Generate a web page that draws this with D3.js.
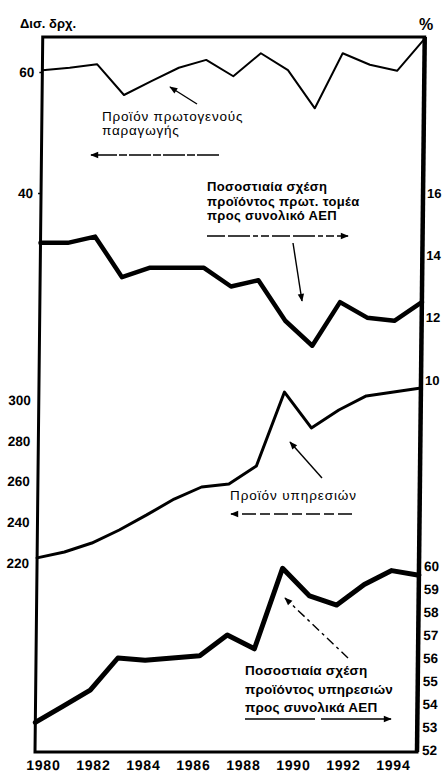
<!DOCTYPE html>
<html>
<head>
<meta charset="utf-8">
<script src="https://cdn.jsdelivr.net/npm/d3@7"></script>
<style>
  body { margin: 0; background: #fff; }
  svg { display: block; }
</style>
</head>
<body>
<div id="chart"></div>
<script>
// values
const years = [1980, 1981, 1982, 1983, 1984, 1985, 1986, 1987, 1988, 1989, 1990, 1991, 1992, 1993, 1994];
const yearTicks = [1980, 1982, 1984, 1986, 1988, 1990, 1992, 1994];

// Προϊόν πρωτογενούς παραγωγής (δισ. δρχ.)
const primaryProduct = [60.3, 60.7, 61.3, 56.2, 58.5, 60.7, 62.0, 59.3, 63.1, 60.3, 54.0, 63.1, 61.2, 60.2, 65.5];
// Ποσοστιαία σχέση προϊόντος πρωτ. τομέα προς ΑΕΠ (%)
const primaryShare = [14.4, 14.4, 14.6, 13.3, 13.6, 13.6, 13.6, 13.0, 13.2, 11.9, 11.1, 12.5, 12.0, 11.9, 12.5];
// Προϊόν υπηρεσιών (δισ. δρχ.)
const servicesProduct = [222.5, 225.4, 229.8, 236.2, 243.6, 251.4, 257.3, 258.8, 267.6, 303.9, 286.3, 295.1, 302.0, 303.9, 305.9];
// Ποσοστιαία σχέση προϊόντος υπηρεσιών προς ΑΕΠ (%)
const servicesShare = [53.2, 53.9, 54.6, 56.0, 55.9, 56.0, 56.1, 57.0, 56.4, 59.9, 58.7, 58.3, 59.2, 59.8, 59.6];

const primaryTicks = [40, 60];
const primaryShareTicks = [10, 12, 14, 16];
const servicesTicks = [220, 240, 260, 280, 300];
const servicesShareTicks = [52, 53, 54, 55, 56, 57, 58, 59, 60];

const width = 443, height = 772;
const plotLeft = 35, plotRight = 417, plotTop = 37, plotBottom = 752;
const skew = 0.62; // the scan leans a little to the right at the top
const font = "'Liberation Sans', Arial, Helvetica, sans-serif";
const intFormat = d3.format("d");

const svg = d3.select("#chart").append("svg")
    .attr("width", width)
    .attr("height", height)
    .style("font-family", font);

svg.append("defs").append("marker")
    .attr("id", "head")
    .attr("viewBox", "0 0 10 10")
    .attr("refX", 9).attr("refY", 5)
    .attr("markerUnits", "userSpaceOnUse")
    .attr("markerWidth", 10).attr("markerHeight", 8)
    .attr("orient", "auto")
  .append("path")
    .attr("d", "M0,1L10,5L0,9Z")
    .attr("fill", "#000");

const x = d3.scaleLinear().domain([1980, 1994]).range([plotLeft, plotRight]);
const xLabel = d3.scaleLinear().domain([1980, 1994]).range([43, 393]);

const yPrimary = d3.scaleLinear().domain([40, 60]).range([193, 72]);
const yPrimaryShare = d3.scaleLinear().domain([10, 16]).range([380, 193]);
const yServices = d3.scaleLinear().domain([220, 300]).range([563, 400]);
const yServicesShare = d3.scaleLinear().domain([52, 60]).range([750, 566]);

const g = svg.append("g")
    .attr("transform", `translate(0,${plotBottom}) skewX(${-skew}) translate(0,${-plotBottom})`);

function styleAxis(sel, size) {
    sel.select(".domain").remove();
    sel.attr("font-family", font)
        .attr("font-size", size)
        .attr("font-weight", "bold");
    sel.selectAll("line").attr("stroke-width", 1.5);
}

g.append("g")
    .attr("transform", `translate(${plotLeft},0)`)
    .call(d3.axisLeft(yPrimary).tickValues(primaryTicks).tickFormat(intFormat).tickSize(3).tickPadding(5))
    .call(s => styleAxis(s, 13.5));

g.append("g")
    .attr("transform", `translate(${plotLeft},0)`)
    .call(d3.axisLeft(yServices).tickValues(servicesTicks).tickFormat(intFormat).tickSize(0).tickPadding(8))
    .call(s => styleAxis(s, 13.5));

g.append("g")
    .attr("transform", `translate(${plotRight},0)`)
    .call(d3.axisRight(yPrimaryShare).tickValues(primaryShareTicks).tickFormat(intFormat).tickSize(0).tickPadding(4))
    .call(s => styleAxis(s, 13));

g.append("g")
    .attr("transform", `translate(${plotRight},0)`)
    .call(d3.axisRight(yServicesShare).tickValues(servicesShareTicks).tickFormat(intFormat).tickSize(0).tickPadding(5))
    .call(s => styleAxis(s, 13.5));

g.append("g")
    .attr("transform", `translate(0,${plotBottom})`)
    .call(d3.axisBottom(xLabel).tickValues(yearTicks).tickFormat(intFormat).tickSize(0).tickPadding(8))
    .call(s => styleAxis(s, 14))
    .selectAll("text").attr("letter-spacing", 0.8);

// frame
g.append("rect")
    .attr("x", plotLeft).attr("y", plotTop)
    .attr("width", plotRight - plotLeft).attr("height", plotBottom - plotTop)
    .attr("fill", "none")
    .attr("stroke", "#000")
    .attr("stroke-width", 3);
g.append("line")
    .attr("x1", plotRight).attr("x2", plotRight)
    .attr("y1", plotTop).attr("y2", plotBottom)
    .attr("stroke", "#000")
    .attr("stroke-width", 4.5);

function drawSeries(values, yScale, widthPx) {
    const line = d3.line()
        .x((d, i) => x(years[i]))
        .y(d => yScale(d));
    g.append("path")
        .datum(values)
        .attr("d", line)
        .attr("fill", "none")
        .attr("stroke", "#000")
        .attr("stroke-width", widthPx)
        .attr("stroke-linejoin", "round")
        .attr("stroke-linecap", "round");
}

drawSeries(primaryProduct, yPrimary, 2);
drawSeries(primaryShare, yPrimaryShare, 4.5);
drawSeries(servicesProduct, yServices, 3);
drawSeries(servicesShare, yServicesShare, 5);

// unit labels
svg.append("text")
    .attr("x", 20).attr("y", 28)
    .attr("font-size", 13).attr("font-weight", "bold")
    .text("Δισ. δρχ.");
svg.append("text")
    .attr("x", 419).attr("y", 30)
    .attr("font-size", 16).attr("font-weight", "bold")
    .text("%");

// notes with their arrows
const notes = [
    { lines: ["Προϊόν πρωτογενούς", "παραγωγής"], x: 102, y: 121, step: 14, weight: "normal", size: 13.5, spacing: 0.8,
      arrows: [
          { from: [219, 155], to: [91, 155], dash: "22,2,8,2" },
          { from: [197, 104], to: [170, 87], dash: null }
      ] },
    { lines: ["Ποσοστιαία σχέση", "προϊόντος πρωτ. τομέα", "προς συνολικό ΑΕΠ"], x: 207, y: 191, step: 14.5, weight: "bold", size: 13, spacing: 0.35,
      arrows: [
          { from: [207, 236], to: [348, 236], dash: "18,3,22,3,5,3,8,3" },
          { from: [293, 243], to: [302, 301], dash: null }
      ] },
    { lines: ["Προϊόν υπηρεσιών"], x: 230, y: 500, step: 14, weight: "normal", size: 13.5, spacing: 0.9,
      arrows: [
          { from: [352, 514], to: [231, 514], dash: "14,4,10,4" },
          { from: [322, 478], to: [290, 442], dash: null }
      ] },
    { lines: ["Ποσοστιαία σχέση", "προϊόντος υπηρεσιών", "προς συνολικά ΑΕΠ"], x: 245, y: 675, step: 18.5, weight: "bold", size: 13.5, spacing: 0.2,
      arrows: [
          { from: [245, 719], to: [391, 719], dash: "70,6" },
          { from: [348, 658], to: [285, 598], dash: "9,4,3,4" }
      ] }
];

notes.forEach(n => {
    const t = svg.append("text")
        .attr("x", n.x).attr("y", n.y)
        .attr("font-size", n.size)
        .attr("font-weight", n.weight)
        .attr("letter-spacing", n.spacing);
    n.lines.forEach((s, i) => {
        t.append("tspan").attr("x", n.x).attr("y", n.y + i * n.step).text(s);
    });
    n.arrows.forEach(a => {
        svg.append("line")
            .attr("x1", a.from[0]).attr("y1", a.from[1])
            .attr("x2", a.to[0]).attr("y2", a.to[1])
            .attr("stroke", "#000")
            .attr("stroke-width", 1.4)
            .attr("stroke-dasharray", a.dash)
            .attr("marker-end", "url(#head)");
    });
});
</script>
</body>
</html>
